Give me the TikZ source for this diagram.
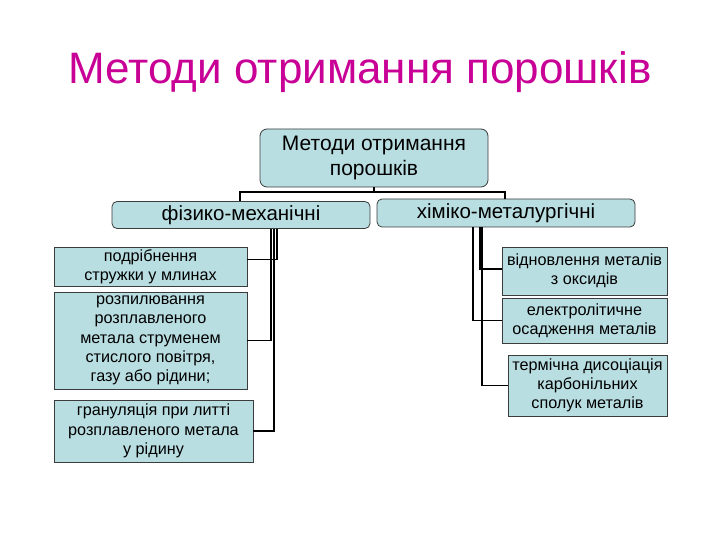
\documentclass[tikz,border=0pt]{standalone}
\usepackage{fontspec}
\setmainfont{Liberation Sans}
\usepackage{xcolor}
\usepackage{tikz}
\usetikzlibrary{positioning}
\usetikzlibrary{calc}
\usetikzlibrary{math}

\definecolor{boxfill}{RGB}{185,222,226}
\definecolor{boxline}{RGB}{60,60,60}
\definecolor{titlecol}{RGB}{200,0,150}

\tikzset{
  rootbox/.style  = {draw=boxline, fill=boxfill, rounded corners=7pt, line width=0.8pt,
                     align=center, inner sep=0pt, font=\fontsize{21}{25}\selectfont},
  groupbox/.style = {draw=boxline, fill=boxfill, rounded corners=5pt, line width=0.8pt,
                     align=center, inner sep=0pt, font=\fontsize{20.5}{24}\selectfont},
  leafbox/.style  = {draw=boxline, fill=boxfill, line width=0.8pt,
                     align=center, inner sep=0pt, font=\fontsize{16.2}{19.2}\selectfont},
  link/.style     = {line width=1.7pt, black}
}

\begin{document}
\begin{tikzpicture}[x=1pt,y=-1pt]

  \useasboundingbox (0,0) rectangle (720,540);

  \tikzmath{
    \barY   = 192; % height of the bar under the root box
    \leftX  = 240; % drop to the left group
    \rightX = 505; % drop to the right group
  }

  % Title
  \node[text=titlecol, font=\fontsize{44}{50}\selectfont] (title) at (360,72)
    {Методи отримання порошків};

  % Root and the two groups
  \node[rootbox, minimum width=228pt, minimum height=58pt] (root) at (374,158)
    {Методи отримання\\порошків};
  \node[groupbox, minimum width=258pt, minimum height=27pt] (fiz) at (241,215)
    {фізико-механічні};
  \node[groupbox, minimum width=258pt, minimum height=28pt] (chem) at (506,213)
    {хіміко-металургічні};

  % Left leaves
  \node[leafbox, minimum width=193pt, minimum height=39pt] (drob) at (150.5,266.5)
    {подрібнення\\стружки у млинах};
  \node[leafbox, minimum width=193pt, minimum height=97pt] (rozp) at (150.5,340.5)
    {розпилювання\\розплавленого\\метала струменем\\стислого повітря,\\газу або рідини;};
  \node[leafbox, minimum width=199pt, minimum height=62pt] (gran) at (153.5,431)
    {грануляція при литті\\розплавленого метала\\у рідину};

  % Right leaves
  \node[leafbox, minimum width=165pt, minimum height=48pt] (vidn) at (584.5,271)
    {відновлення металів\\з оксидів};
  \node[leafbox, minimum width=165pt, minimum height=45pt] (elek) at (584.5,320.5)
    {електролітичне\\осадження металів};
  \node[leafbox, minimum width=159pt, minimum height=61pt] (term) at (587.5,385.5)
    {термічна дисоціація\\карбонільних\\сполук металів};

  % Bar under the root
  \coordinate (barL) at (\leftX,\barY);
  \coordinate (barR) at (\rightX,\barY);
  \draw[link] (root.south) -- (root.south |- barL);
  \draw[link] (barL |- fiz.north) -- (barL) -- (barR) -- (barR |- chem.north);

  % Drops of the left group
  \coordinate (fa) at (277,0);
  \coordinate (fb) at (271,0);
  \coordinate (fc) at (274,0);
  \draw[link] (fa |- fiz.south) |- ([yshift=7pt]drob.east);
  \draw[link] (fb |- fiz.south) |- (rozp.east);
  \draw[link] (fc |- fiz.south) |- (gran.east);

  % Drops of the right group
  \coordinate (ca) at (480,0);
  \coordinate (cb) at (473,0);
  \coordinate (cc) at (482,0);
  \draw[link] (ca |- chem.south) |- ([yshift=2pt]vidn.west);
  \draw[link] (cb |- chem.south) |- (elek.west);
  \draw[link] (cc |- chem.south) |- (term.west);

\end{tikzpicture}
\end{document}
